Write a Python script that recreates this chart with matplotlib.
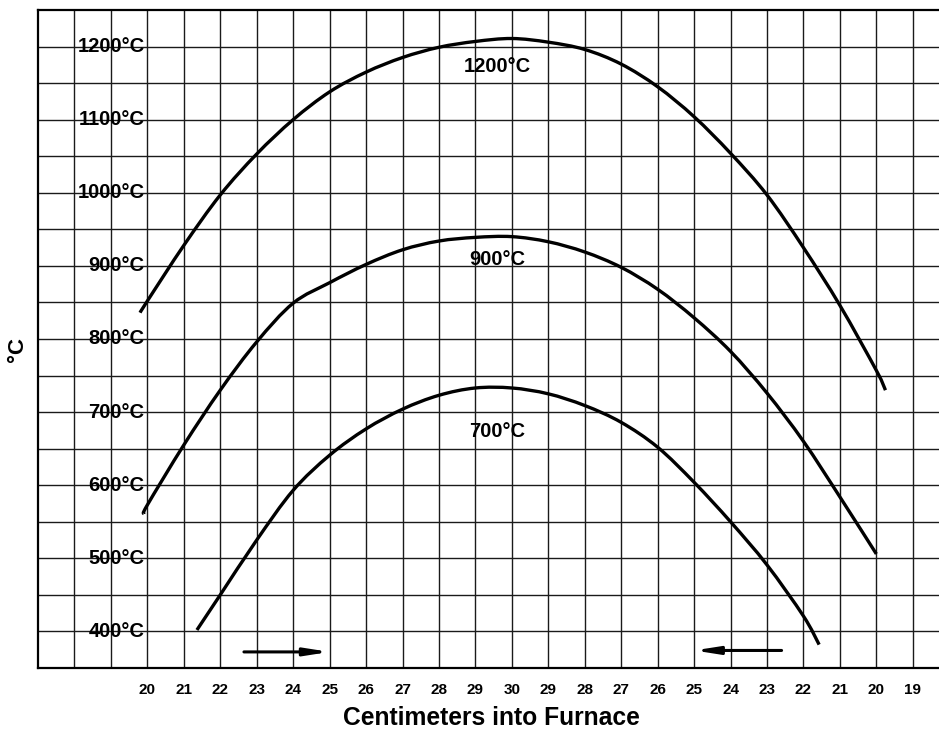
import matplotlib
matplotlib.use("Agg")
import matplotlib.pyplot as plt
from matplotlib.path import Path
from matplotlib.patches import PathPatch

plt.rcParams['font.family'] = ['Liberation Sans', 'DejaVu Sans']

# ---- data ----
# x positions are grid columns along the furnace (tick labels below)
tick_pos = list(range(3, 25))
tick_labels = ["20", "21", "22", "23", "24", "25", "26", "27", "28", "29", "30",
               "29", "28", "27", "26", "25", "24", "23", "22", "21", "20", "19"]

y_label_vals = [400, 500, 600, 700, 800, 900, 1000, 1100, 1200]
y_label_texts = ["400°C", "500°C", "600°C", "700°C", "800°C", "900°C",
                 "1000°C", "1100°C", "1200°C"]

pos_1200 = [2.8, 3, 4, 5, 6, 7, 8, 9, 10, 11, 12, 13, 14, 15, 16, 17, 18, 19, 20, 21, 22, 23, 23.25]
temp_1200 = [836, 852, 928, 997, 1053, 1100, 1138, 1165, 1185, 1199, 1207, 1211, 1206, 1196,
             1176, 1145, 1104, 1054, 997, 925, 846, 757, 730]

pos_900 = [2.9, 3, 4, 5, 6, 7, 8, 9, 10, 11, 12, 13, 14, 15, 16, 17, 18, 19, 20, 21, 22, 23]
temp_900 = [561, 573, 655, 730, 796, 849, 877, 902, 922, 934, 939, 940, 933, 919,
            898, 868, 829, 783, 726, 660, 584, 506]

pos_700 = [4.36, 5, 6, 7, 8, 9, 10, 11, 12, 13, 14, 15, 16, 17, 18, 19, 20, 21, 21.43]
temp_700 = [402, 450, 525, 593, 641, 677, 704, 723, 733, 733, 725, 709, 686, 652,
            604, 550, 491, 421, 382]

curve_labels = ["1200°C", "900°C", "700°C"]
curve_label_pos = [(12.6, 1173), (12.6, 909), (12.6, 673)]

arrow_right = ((5.65, 372), (8.0, 372))
arrow_left = ((20.4, 374), (18.0, 374))


def smooth_path(xs, ys):
    """Cubic Bezier path through the read points (Catmull-Rom tangents)."""
    pts = list(zip(xs, ys))
    verts = [pts[0]]
    codes = [Path.MOVETO]
    n = len(pts)
    for i in range(n - 1):
        p0 = pts[i - 1] if i > 0 else pts[i]
        p1 = pts[i]
        p2 = pts[i + 1]
        p3 = pts[i + 2] if i + 2 < n else pts[i + 1]
        c1 = (p1[0] + (p2[0] - p0[0]) / 6.0, p1[1] + (p2[1] - p0[1]) / 6.0)
        c2 = (p2[0] - (p3[0] - p1[0]) / 6.0, p2[1] - (p3[1] - p1[1]) / 6.0)
        verts += [c1, c2, p2]
        codes += [Path.CURVE4, Path.CURVE4, Path.CURVE4]
    return Path(verts, codes)


# ---- figure ----
W, H = 939, 733
fig = plt.figure(figsize=(W / 100, H / 100), dpi=100)
left_px, top_px, bottom_px = 38, 10, 668
ax = fig.add_axes([left_px / W, 1 - bottom_px / H, 1 - left_px / W, (bottom_px - top_px) / H])

unit = 36.45
ax.set_xlim(0, (W - left_px) / unit)
ax.set_ylim(350, 1250)

# grid
for xg in range(1, 26):
    ax.axvline(xg, color='#1a1a1a', lw=1.0, zorder=1)
for yg in range(400, 1250, 50):
    ax.axhline(yg, color='#1a1a1a', lw=1.0, zorder=1)

for s in ['left', 'bottom', 'top']:
    ax.spines[s].set_linewidth(1.6)
    ax.spines[s].set_color('black')
ax.spines['right'].set_visible(False)

ax.set_yticks([])
ax.set_xticks(tick_pos)
ax.set_xticklabels(tick_labels, fontsize=11, fontweight='bold')
ax.tick_params(axis='x', length=0, pad=11)

# curves
for px, ty in [(pos_1200, temp_1200), (pos_900, temp_900), (pos_700, temp_700)]:
    ax.add_patch(PathPatch(smooth_path(px, ty), facecolor='none', edgecolor='black',
                           lw=2.4, capstyle='butt', joinstyle='round', zorder=3))

# y value labels drawn inside the plot
for v, t in zip(y_label_vals, y_label_texts):
    ax.text(2.92, v, t, ha='right', va='center', fontsize=14.5, fontweight='bold', zorder=4)

for t, (xx, yy) in zip(curve_labels, curve_label_pos):
    ax.text(xx, yy, t, ha='center', va='center', fontsize=14.5, fontweight='bold', zorder=4)

# arrows
for (x0, y0), (x1, y1) in [arrow_right, arrow_left]:
    ax.annotate('', xy=(x1, y1), xytext=(x0, y0),
                arrowprops=dict(arrowstyle='-|>,head_length=1.4,head_width=0.22',
                                color='black', lw=2.2, shrinkA=0, shrinkB=0), zorder=4)

fig.text(491 / W, 1 - 718 / H, "Centimeters into Furnace", ha='center', va='center',
         fontsize=17.7, fontweight='bold')
fig.text(18 / W, 1 - 350 / H, "°C", ha='center', va='center', rotation=90,
         fontsize=16, fontweight='bold')

fig.savefig("out.png", dpi=100)
